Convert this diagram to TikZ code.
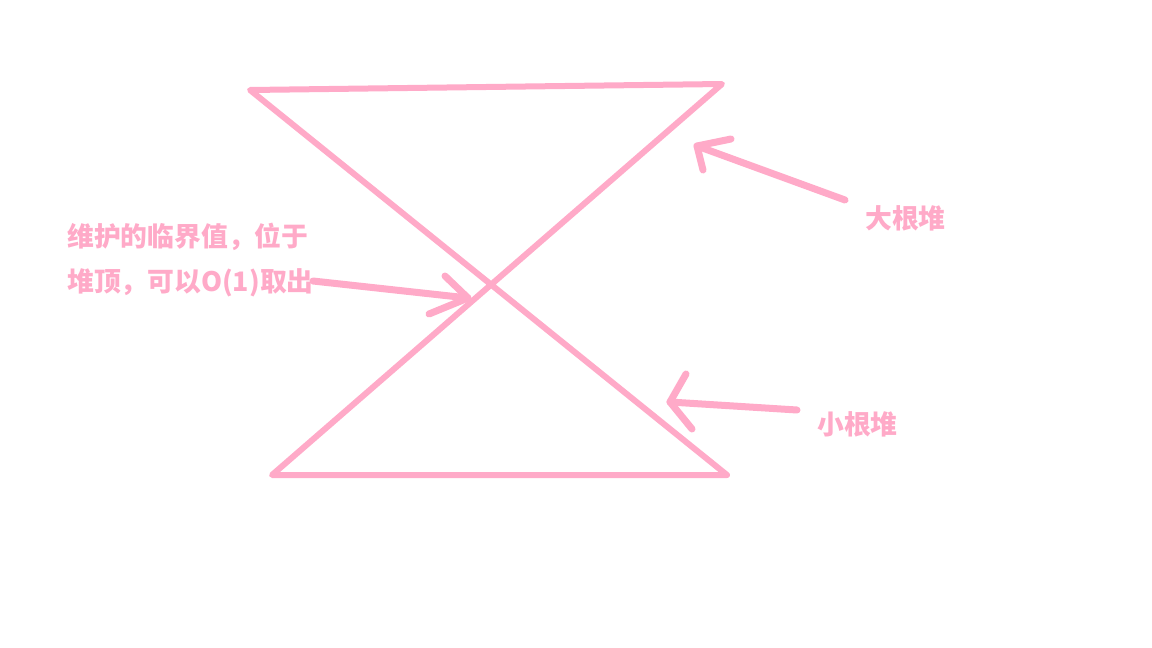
\documentclass[tikz,border=0pt]{standalone}
\usepackage{fontspec}
\newfontfamily\cjk{Noto Sans CJK SC}
\definecolor{pinkline}{RGB}{255,170,200}
\definecolor{pinktext}{RGB}{255,170,200}
\tikzset{
  stroke/.style={draw=pinkline,line width=6pt,line cap=round,line join=round},
  arr/.style={draw=pinkline,line width=7pt,line cap=round,line join=round},
  lbl/.style={text=pinktext,font=\cjk\bfseries\fontsize{26.8}{26.8}\selectfont,inner sep=0pt,anchor=west}
}
\begin{document}
\begin{tikzpicture}[x=1pt,y=-1pt]
\useasboundingbox[fill=white] (0,0) rectangle (1152,648);
% hourglass corners
\coordinate (tl) at (250,90);
\coordinate (tr) at (722,84);
\coordinate (bl) at (272,475);
\coordinate (br) at (727,475);
\draw[stroke] (tl) -- (tr) -- (bl) -- (br) -- cycle;
% labels
\node[lbl] (t1) at (67,237) {维护的临界值，位于};
\node[lbl] (t2) at (67,283) {堆顶，可以O(1)取出};
\node[lbl] (big) at (865,218) {大根堆};
\node[lbl] (small) at (817,424) {小根堆};
% arrow: big heap
\coordinate (a1s) at (845,200);
\coordinate (a1t) at (697,146);
\coordinate (a1u) at (731,139);
\coordinate (a1d) at (703,170);
\draw[arr] (a1s) -- (a1t);
\draw[arr] (a1u) -- (a1t) -- (a1d);
% arrow: small heap
\coordinate (a2s) at (797,410);
\coordinate (a2t) at (670,402);
\coordinate (a2u) at (686,374);
\coordinate (a2d) at (692,429);
\draw[arr] (a2s) -- (a2t);
\draw[arr] (a2u) -- (a2t) -- (a2d);
% arrow: critical value
\coordinate (a3s) at (313,281);
\coordinate (a3t) at (468,298);
\coordinate (a3u) at (445,276);
\coordinate (a3d) at (429,314);
\draw[arr] (a3s) -- (a3t);
\draw[arr] (a3u) -- (a3t) -- (a3d);
\end{tikzpicture}
\end{document}
